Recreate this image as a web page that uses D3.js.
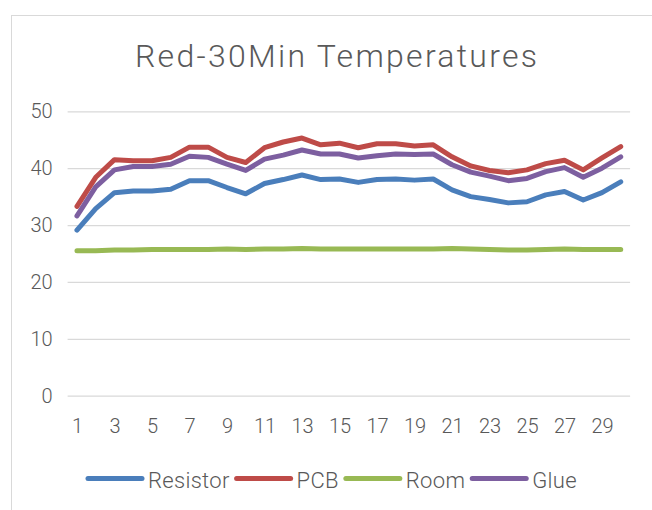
<!DOCTYPE html>
<html>
<head>
<meta charset="utf-8">
<script src="https://cdn.jsdelivr.net/npm/d3@7"></script>
<style>
  body { margin: 0; background: #fff; }
  svg { display: block; }
  text { font-family: Roboto, "Liberation Sans", sans-serif; font-weight: 300; fill: #595959; }
</style>
</head>
<body>
<div id="chart"></div>
<script>
// minutes 1..30
var days = [1, 2, 3, 4, 5, 6, 7, 8, 9, 10, 11, 12, 13, 14, 15,
  16, 17, 18, 19, 20, 21, 22, 23, 24, 25, 26, 27, 28, 29, 30];

var resistor = [29.1, 32.9, 35.7, 36.0, 36.0, 36.3, 37.8, 37.8, 36.6, 35.5,
  37.3, 38.0, 38.8, 38.0, 38.1, 37.5, 38.0, 38.1, 37.9, 38.1,
  36.2, 35.0, 34.5, 33.9, 34.1, 35.3, 35.9, 34.4, 35.7, 37.6];

var pcb = [33.3, 38.4, 41.5, 41.3, 41.3, 41.9, 43.7, 43.7, 41.9, 41.0,
  43.6, 44.6, 45.3, 44.1, 44.4, 43.6, 44.3, 44.3, 43.9, 44.1,
  42.0, 40.4, 39.6, 39.2, 39.7, 40.8, 41.4, 39.7, 41.8, 43.8];

var room = [25.5, 25.5, 25.6, 25.6, 25.7, 25.7, 25.7, 25.7, 25.8, 25.7,
  25.8, 25.8, 25.9, 25.8, 25.8, 25.8, 25.8, 25.8, 25.8, 25.8,
  25.9, 25.8, 25.7, 25.6, 25.6, 25.7, 25.8, 25.7, 25.7, 25.7];

var glue = [31.6, 36.7, 39.7, 40.3, 40.3, 40.7, 42.1, 41.9, 40.7, 39.6,
  41.6, 42.3, 43.2, 42.5, 42.5, 41.8, 42.2, 42.5, 42.4, 42.5,
  40.6, 39.3, 38.6, 37.8, 38.2, 39.4, 40.1, 38.4, 40.0, 42.0];

var yTicks = [0, 10, 20, 30, 40, 50];
var xTicks = days.filter(function (d) { return d % 2 === 1; });

var series = [
  { name: "Resistor", values: resistor, color: "#4a7ebb" },
  { name: "PCB", values: pcb, color: "#be4b48" },
  { name: "Room", values: room, color: "#98b954" },
  { name: "Glue", values: glue, color: "#7d5fa0" }
];

var width = 652, height = 510;
var plot = { left: 67.6, right: 630.1, top: 111.3, bottom: 395.7 };

var svg = d3.select("#chart").append("svg")
  .attr("width", width)
  .attr("height", height);

// chart area border (runs off the right and bottom edges)
svg.append("rect")
  .attr("x", 11.5).attr("y", 15.5)
  .attr("width", 700).attr("height", 600)
  .attr("fill", "#fff")
  .attr("stroke", "#d9d9d9");

var x = d3.scalePoint()
  .domain(days)
  .range([plot.left, plot.right])
  .padding(0.5);

var y = d3.scaleLinear()
  .domain([0, 50])
  .range([plot.bottom, plot.top]);

// title
svg.append("text")
  .attr("x", 336)
  .attr("y", 67)
  .attr("text-anchor", "middle")
  .attr("textLength", 402)
  .attr("lengthAdjust", "spacing")
  .style("font-size", "32px")
  .text("Red-30Min Temperatures");

// y axis + gridlines
var yAxis = svg.append("g")
  .attr("transform", "translate(" + plot.left + ",0)")
  .call(d3.axisLeft(y)
    .tickValues(yTicks)
    .tickSize(-(plot.right - plot.left))
    .tickPadding(15));
yAxis.select(".domain").remove();
yAxis.selectAll("line").attr("stroke", "#d9d9d9").attr("stroke-width", 1.3);
yAxis.selectAll("text").style("font-size", "20px").attr("fill", "#595959");

// x axis labels
var xAxis = svg.append("g")
  .attr("transform", "translate(0," + plot.bottom + ")")
  .call(d3.axisBottom(x)
    .tickValues(xTicks)
    .tickSize(0)
    .tickPadding(23));
xAxis.select(".domain").remove();
xAxis.selectAll("text").style("font-size", "20px").attr("fill", "#595959");

// lines
var line = d3.line()
  .x(function (d, i) { return x(days[i]); })
  .y(function (d) { return y(d); });

svg.append("g").selectAll("path")
  .data(series)
  .join("path")
  .attr("d", function (s) { return line(s.values); })
  .attr("fill", "none")
  .attr("stroke", function (s) { return s.color; })
  .attr("stroke-width", 5)
  .attr("stroke-linejoin", "round")
  .attr("stroke-linecap", "round");

// legend
var legend = svg.append("g");
var lx = 88, ly = 478.5;
series.forEach(function (s) {
  legend.append("line")
    .attr("x1", lx).attr("x2", lx + 54)
    .attr("y1", ly).attr("y2", ly)
    .attr("stroke", s.color)
    .attr("stroke-width", 5)
    .attr("stroke-linecap", "round");
  var t = legend.append("text")
    .attr("x", lx + 60)
    .attr("y", ly + 9.5)
    .style("font-size", "22px")
    .style("letter-spacing", "0.3px")
    .text(s.name);
  lx = lx + 60 + t.node().getComputedTextLength() + 7;
});
</script>
</body>
</html>
